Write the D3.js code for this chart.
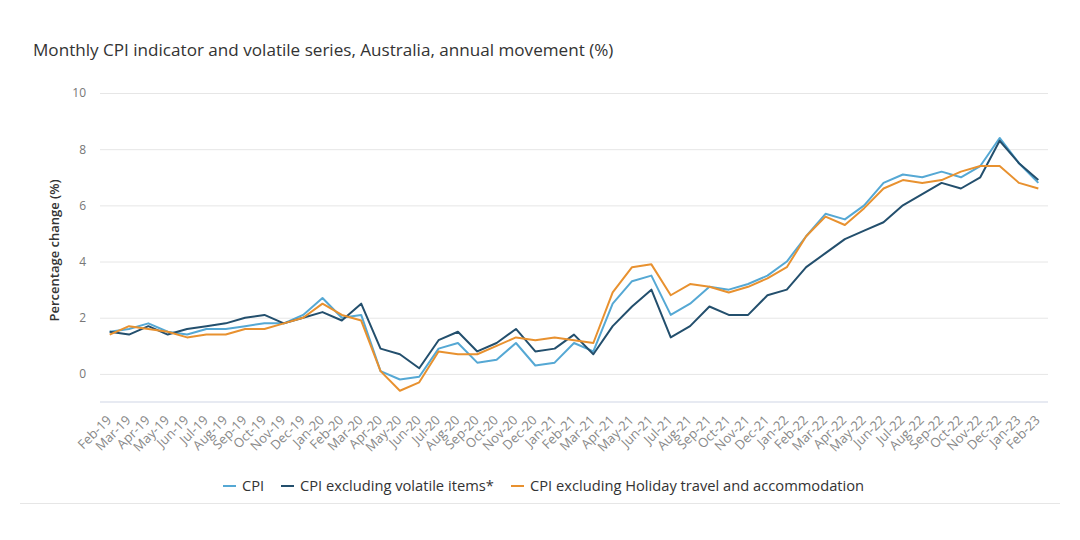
<!DOCTYPE html>
<html>
<head>
<meta charset="utf-8">
<script src="https://cdn.jsdelivr.net/npm/d3@7"></script>
<style>
  html, body { margin: 0; padding: 0; background: #fff; }
  svg { display: block; }
</style>
</head>
<body>
<svg id="chart" width="1080" height="540"></svg>
<script>
const months = ["Feb-19","Mar-19","Apr-19","May-19","Jun-19","Jul-19","Aug-19","Sep-19","Oct-19","Nov-19","Dec-19",
  "Jan-20","Feb-20","Mar-20","Apr-20","May-20","Jun-20","Jul-20","Aug-20","Sep-20","Oct-20","Nov-20","Dec-20",
  "Jan-21","Feb-21","Mar-21","Apr-21","May-21","Jun-21","Jul-21","Aug-21","Sep-21","Oct-21","Nov-21","Dec-21",
  "Jan-22","Feb-22","Mar-22","Apr-22","May-22","Jun-22","Jul-22","Aug-22","Sep-22","Oct-22","Nov-22","Dec-22",
  "Jan-23","Feb-23"];

const cpi = [1.5,1.6,1.8,1.5,1.4,1.6,1.6,1.7,1.8,1.8,2.1,
  2.7,2.0,2.1,0.1,-0.2,-0.1,0.9,1.1,0.4,0.5,1.1,0.3,
  0.4,1.1,0.8,2.5,3.3,3.5,2.1,2.5,3.1,3.0,3.2,3.5,
  4.0,4.9,5.7,5.5,6.0,6.8,7.1,7.0,7.2,7.0,7.4,8.4,
  7.5,6.8];

const cpiExVolatile = [1.5,1.4,1.7,1.4,1.6,1.7,1.8,2.0,2.1,1.8,2.0,
  2.2,1.9,2.5,0.9,0.7,0.2,1.2,1.5,0.8,1.1,1.6,0.8,
  0.9,1.4,0.7,1.7,2.4,3.0,1.3,1.7,2.4,2.1,2.1,2.8,
  3.0,3.8,4.3,4.8,5.1,5.4,6.0,6.4,6.8,6.6,7.0,8.3,
  7.5,6.9];

const cpiExHoliday = [1.4,1.7,1.6,1.5,1.3,1.4,1.4,1.6,1.6,1.8,2.0,
  2.5,2.1,1.9,0.1,-0.6,-0.3,0.8,0.7,0.7,1.0,1.3,1.2,
  1.3,1.2,1.1,2.9,3.8,3.9,2.8,3.2,3.1,2.9,3.1,3.4,
  3.8,4.9,5.6,5.3,5.9,6.6,6.9,6.8,6.9,7.2,7.4,7.4,
  6.8,6.6];

const yTicks = [0,2,4,6,8,10];

const seriesNames = ["CPI", "CPI excluding volatile items*", "CPI excluding Holiday travel and accommodation"];
const seriesColors = ["#55a8d4", "#234f6d", "#e8912f"];
const seriesData = [cpi, cpiExVolatile, cpiExHoliday];

const svg = d3.select("#chart");
const font = "'Open Sans', 'Noto Sans', sans-serif";

const plot = { left: 100, right: 1048, top: 93, bottom: 402 };

const x = d3.scalePoint().domain(months).range([plot.left, plot.right]).padding(0.5);
const y = d3.scaleLinear().domain([-1, 10]).range([plot.bottom, plot.top]);

// Title
svg.append("text")
  .attr("x", 33).attr("y", 56)
  .attr("font-family", font).attr("font-size", 17.1)
  .attr("fill", "#333")
  .text("Monthly CPI indicator and volatile series, Australia, annual movement (%)");

// Gridlines + y labels
const yAxis = d3.axisLeft(y).tickValues(yTicks).tickSize(-(plot.right - plot.left)).tickFormat(d3.format("d"));
const yg = svg.append("g").attr("transform", `translate(${plot.left},0)`).call(yAxis);
yg.select(".domain").remove();
yg.selectAll(".tick line").attr("stroke", "#e6e6e6").attr("stroke-width", 1);
yg.selectAll(".tick text")
  .attr("x", -14)
  .attr("font-family", font).attr("font-size", 12).attr("fill", "#777");

// Bottom axis
const xAxis = d3.axisBottom(x).tickSize(0);
const xg = svg.append("g").attr("transform", `translate(0,${y(-1)})`).call(xAxis);
xg.select(".domain").attr("stroke", "#dfe3ee").attr("stroke-width", 1.5)
  .attr("d", `M${plot.left},0H${plot.right}`);
xg.selectAll(".tick text")
  .attr("font-family", font).attr("font-size", 13).attr("fill", "#888")
  .attr("text-anchor", "end")
  .attr("dy", null).attr("y", 0)
  .attr("transform", "translate(2,19) rotate(-45)");

// Y axis title
svg.append("text")
  .attr("transform", `translate(59,${(plot.top + plot.bottom) / 2 + 3}) rotate(-90)`)
  .attr("text-anchor", "middle")
  .attr("font-family", font).attr("font-size", 13).attr("font-weight", 600)
  .attr("fill", "#333")
  .text("Percentage change (%)");

// Lines
const line = d3.line().x((d, i) => x(months[i])).y(d => y(d));
seriesData.forEach((data, k) => {
  svg.append("path")
    .datum(data)
    .attr("fill", "none")
    .attr("stroke", seriesColors[k])
    .attr("stroke-width", 2)
    .attr("stroke-linejoin", "round")
    .attr("d", line);
});

// Legend
const legendY = 486;
const legendX = [223, 281, 511];
seriesNames.forEach((name, k) => {
  const g = svg.append("g").attr("transform", `translate(${legendX[k]},${legendY})`);
  g.append("line").attr("x1", 0).attr("x2", 13).attr("y1", 0).attr("y2", 0)
    .attr("stroke", seriesColors[k]).attr("stroke-width", 2);
  g.append("text").attr("x", 19).attr("y", 5)
    .attr("font-family", font).attr("font-size", 14.7).attr("fill", "#333")
    .text(name);
});

// separator line under legend
svg.append("line")
  .attr("x1", 20).attr("x2", 1060).attr("y1", 503.5).attr("y2", 503.5)
  .attr("stroke", "#e6e6e6").attr("stroke-width", 1);
</script>
</body>
</html>
